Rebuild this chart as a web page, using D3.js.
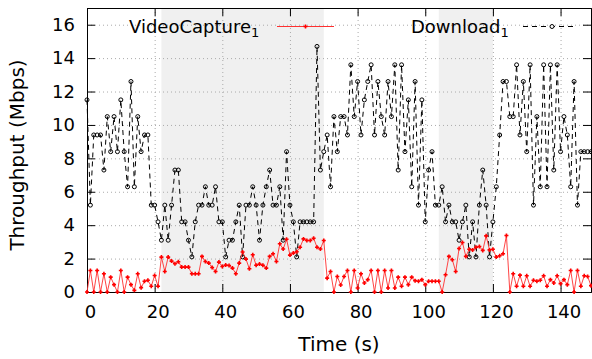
<!DOCTYPE html>
<html>
<head>
<meta charset="utf-8">
<script src="https://cdn.jsdelivr.net/npm/d3@7"></script>
<style>
  html, body { margin: 0; padding: 0; background: #fff; }
  svg { display: block; font-family: "DejaVu Sans", sans-serif; }
</style>
</head>
<body>
<div id="chart"></div>
<script>
// sample times (s)
const time = [
  0,1,2,3,4,5,6,7,8,9,10,11,12,13,14,15,16,17,18,19,20,21,22,23,24,25,26,27,28,29,
  30,31,32,33,34,35,36,37,38,39,40,41,42,43,44,45,46,47,48,49,50,51,52,53,54,55,56,57,58,59,
  60,61,62,63,64,65,66,67,68,69,70,71,72,73,74,75,76,77,78,79,80,81,82,83,84,85,86,87,88,89,
  90,91,92,93,94,95,96,97,98,99,100,101,102,103,104,105,106,107,108,109,110,111,112,113,114,115,116,117,118,119,
  120,121,122,123,124,125,126,127,128,129,130,131,132,133,134,135,136,137,138,139,140,141,142,143,144,145,146,147,148,149
];

const videoCapture = [
  0,1.29,0,1.29,0,1.09,0,0.89,0.44,0,
  1.29,0,0.89,0.44,0.1,1.09,0.26,0.64,0.7,0.34,
  0.99,0.34,2.09,1.23,2.09,1.85,1.69,1.81,1.49,1.49,
  1.49,1.09,1.09,1.09,2.13,1.83,1.73,1.47,1.23,1.79,
  1.53,1.61,1.59,1.43,1.09,1.73,2.39,1.97,1.39,2.23,
  1.6,1.67,1.6,1.43,2.13,2.29,1.83,2.89,2.57,3.16,
  2.21,2.33,2.41,2.68,3.18,3.08,3.08,3.22,2.68,2.57,
  3.08,0.83,1.23,0,0.93,0.42,0.93,1.29,0,1.29,
  0.24,1.09,0.54,0.74,1.29,0,1.29,0,1.29,0.24,
  1.29,0.24,0.89,0.34,0.89,0.44,0.89,0.68,0.64,0.74,
  0.44,0.64,0.64,0.64,0.64,0,1.03,2.13,1.93,1.23,
  2.6,2.96,2.13,2.56,2.52,2.68,2.72,2.49,3.36,2.52,
  2.56,2.09,2.17,2.29,3.38,0,1.09,0.34,1.01,0.34,
  0.97,0.34,0.7,0.64,0.7,0.97,0.34,0.74,0.54,0.97,
  0.5,0.74,0.44,1.29,0,1.29,0.34,0.97,0.93,0.38
];

const download = [
  11.5,5.2,9.4,9.4,9.4,7.3,10.5,8.4,10.5,8.4,
  11.5,8.4,6.3,12.6,6.3,10.5,8.4,9.4,9.4,5.2,
  5.2,4.2,3.1,5.2,3.1,5.2,7.3,7.3,4.2,4.2,
  3.1,2.1,4.2,5.2,5.2,6.3,5.2,5.2,6.3,4.2,
  4.2,2.1,3.1,3.1,4.2,5.2,2.1,5.2,5.2,6.3,
  5.2,3.1,5.2,6.3,7.3,5.2,5.2,6.3,3.1,8.4,
  5.2,4.2,2.1,4.2,4.2,4.2,4.2,4.2,14.7,7.3,
  8.4,9.4,6.3,10.5,8.4,10.5,10.5,9.4,13.6,10.5,
  12.6,9.4,11.5,12.6,13.6,9.4,12.6,10.5,9.4,12.6,
  10.5,13.6,7.3,13.6,8.4,11.5,6.3,12.6,5.2,11.5,
  4.2,7.3,8.4,5.2,5.2,6.3,4.2,5.2,4.2,4.2,
  3.1,4.2,5.2,2.1,4.2,2.1,5.2,7.3,5.2,2.1,
  4.2,6.3,9.4,12.6,12.6,10.5,10.5,13.6,9.4,12.6,
  8.4,13.6,5.2,10.5,6.3,13.6,6.3,13.6,7.3,13.6,
  8.4,10.5,9.4,6.3,12.6,5.2,8.4,8.4,8.4,8.4
];

// shaded intervals (s)
const shadeStart = [22, 104];
const shadeEnd = [70, 120];

const xTicks = [0, 20, 40, 60, 80, 100, 120, 140];
const yTicks = [0, 2, 4, 6, 8, 10, 12, 14, 16];

const W = 592, H = 359;
const margin = { top: 8, right: 1, bottom: 67, left: 87 };
const width = W - margin.left - margin.right;
const height = H - margin.top - margin.bottom;

const svg = d3.select('#chart').append('svg')
  .attr('width', W)
  .attr('height', H);

const g = svg.append('g')
  .attr('transform', `translate(${margin.left},${margin.top})`);

const x = d3.scaleLinear().domain([0, 149]).range([0, width]);
const y = d3.scaleLinear().domain([0, 17]).range([height, 0]);

// shaded periods
g.selectAll('rect.shade')
  .data(shadeStart.map((s, i) => [s, shadeEnd[i]]))
  .enter().append('rect')
  .attr('x', d => x(d[0]))
  .attr('y', 0)
  .attr('width', d => x(d[1]) - x(d[0]))
  .attr('height', height)
  .attr('fill', '#f0f0f0');

// dotted grid
g.append('g')
  .selectAll('line')
  .data(xTicks.slice(1))
  .enter().append('line')
  .attr('x1', d => x(d) + 0.5).attr('x2', d => x(d) + 0.5)
  .attr('y1', 0).attr('y2', height)
  .attr('stroke', '#aaa').attr('stroke-dasharray', '1,3');

g.append('g')
  .selectAll('line')
  .data(yTicks.slice(1))
  .enter().append('line')
  .attr('x1', 0).attr('x2', width)
  .attr('y1', d => y(d) + 0.5).attr('y2', d => y(d) + 0.5)
  .attr('stroke', '#aaa').attr('stroke-dasharray', '1,3');

// axes with inward ticks
const tick = 8;
g.append('g')
  .attr('transform', `translate(0,${height})`)
  .call(d3.axisBottom(x).tickValues(xTicks).tickSize(-tick).tickPadding(13))
  .call(a => a.selectAll('text').attr('dx', 3));
g.append('g')
  .call(d3.axisTop(x).tickValues(xTicks).tickSize(-tick).tickFormat(''));
g.append('g')
  .call(d3.axisLeft(y).tickValues(yTicks).tickSize(-tick).tickPadding(12));
g.append('g')
  .attr('transform', `translate(${width},0)`)
  .call(d3.axisRight(y).tickValues(yTicks).tickSize(-tick).tickFormat(''));

g.selectAll('.domain').attr('stroke', '#000');
g.selectAll('.tick line').attr('stroke', '#000');
g.selectAll('.tick text')
  .attr('font-size', 18)
  .attr('font-family', 'DejaVu Sans')
  .attr('fill', '#000');

// series
const pts = (vals) => vals.map((v, i) => [time[i], v]);

const line = d3.line()
  .x(d => x(d[0]))
  .y(d => y(d[1]));

g.append('path')
  .datum(pts(download))
  .attr('fill', 'none')
  .attr('stroke', '#000')
  .attr('stroke-width', 1)
  .attr('stroke-dasharray', '5,4')
  .attr('d', line);

g.selectAll('circle.dl')
  .data(pts(download))
  .enter().append('circle')
  .attr('cx', d => x(d[0]))
  .attr('cy', d => y(d[1]))
  .attr('r', 2)
  .attr('fill', 'none')
  .attr('stroke', '#000')
  .attr('stroke-width', 1);

g.append('path')
  .datum(pts(videoCapture))
  .attr('fill', 'none')
  .attr('stroke', '#ff3030')
  .attr('stroke-width', 0.9)
  .attr('d', line);

const plus = 'M-2,0H2M0,-2V2';
g.selectAll('path.vc')
  .data(pts(videoCapture))
  .enter().append('path')
  .attr('transform', d => `translate(${x(d[0])},${y(d[1])})`)
  .attr('d', plus)
  .attr('stroke', '#f00')
  .attr('stroke-width', 1.6);

// legend
const legend = svg.append('g').attr('font-size', 18).attr('fill', '#000');

const t1 = legend.append('text').attr('x', 129).attr('y', 33).text('VideoCapture');
t1.append('tspan').attr('font-size', 13).attr('dy', 4).text('1');
legend.append('line')
  .attr('x1', 277).attr('x2', 334).attr('y1', 26.5).attr('y2', 26.5)
  .attr('stroke', '#ff3030').attr('stroke-width', 1);
legend.append('path')
  .attr('transform', 'translate(305.5,26.5)')
  .attr('d', plus).attr('stroke', '#f00').attr('stroke-width', 1.6);

const t2 = legend.append('text').attr('x', 411).attr('y', 33).text('Download');
t2.append('tspan').attr('font-size', 13).attr('dy', 4).text('1');
legend.append('line')
  .attr('x1', 523).attr('x2', 576).attr('y1', 26.5).attr('y2', 26.5)
  .attr('stroke', '#000').attr('stroke-dasharray', '5,4');
legend.append('circle')
  .attr('cx', 552).attr('cy', 26.5).attr('r', 2)
  .attr('fill', '#fff').attr('stroke', '#000');

// axis titles
svg.append('text')
  .attr('x', 339)
  .attr('y', 351)
  .attr('text-anchor', 'middle')
  .attr('font-size', 20)
  .text('Time (s)');

svg.append('text')
  .attr('transform', `translate(24,${margin.top + height / 2 + 5}) rotate(-90)`)
  .attr('text-anchor', 'middle')
  .attr('font-size', 20)
  .text('Throughput (Mbps)');
</script>
</body>
</html>
